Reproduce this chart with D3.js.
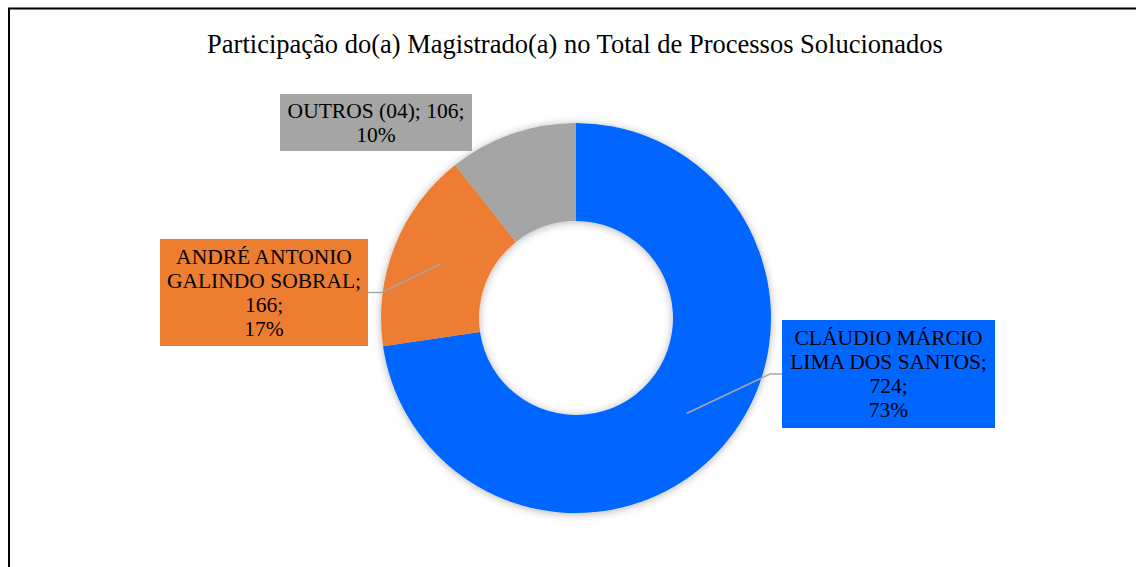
<!DOCTYPE html>
<html>
<head>
<meta charset="utf-8">
<script src="https://cdn.jsdelivr.net/npm/d3@7"></script>
<style>
  html, body { margin: 0; padding: 0; background: #fff; }
  svg { display: block; }
  svg text { font-family: 'Liberation Serif', Tinos, 'Times New Roman', 'DejaVu Serif', serif; }
</style>
</head>
<body>
<svg id="chart" width="1136" height="567"></svg>
<script>
// data
const names = ['CLÁUDIO MÁRCIO LIMA DOS SANTOS', 'ANDRÉ ANTONIO GALINDO SOBRAL', 'OUTROS (04)']
const values = [724, 166, 106]
const percents = ['73%', '17%', '10%']
const colors = ['#0066ff', '#ed7d31', '#a5a5a5']
// how each label breaks into lines
const labelLines = [
  ['CLÁUDIO MÁRCIO', 'LIMA DOS SANTOS;', '724;', '73%'],
  ['ANDRÉ ANTONIO', 'GALINDO SOBRAL;', '166;', '17%'],
  ['OUTROS (04); 106;', '10%'],
]

const W = 1136, H = 567
const CX = 576, CY = 318
const R_OUT = 195, R_IN = 97
const FONT = 21.5
const LINE_H = 24
const SERIF = "'Liberation Serif', Tinos, 'Times New Roman', 'DejaVu Serif', serif"

// label boxes: [x, y, w, h], and whether they get a leader line
const boxes = [
  { x: 782, y: 320, w: 213, h: 108, leader: 'left' },
  { x: 160, y: 239, w: 208, h: 107, leader: 'right' },
  { x: 280, y: 94, w: 192, h: 57, leader: null },
]

const svg = d3.select('#chart')

// frame
svg.append('rect')
  .attr('x', 9).attr('y', 8.5)
  .attr('width', W + 20).attr('height', H + 20)
  .attr('fill', 'none').attr('stroke', '#000').attr('stroke-width', 2)

svg.append('text')
  .attr('x', 575).attr('y', 53)
  .attr('text-anchor', 'middle')
  .attr('font-family', SERIF)
  .style('font-size', '26.5px')
  .text('Participação do(a) Magistrado(a) no Total de Processos Solucionados')

const defs = svg.append('defs')
const shadow = defs.append('filter').attr('id', 'shadow')
  .attr('x', '-20%').attr('y', '-20%').attr('width', '140%').attr('height', '140%')
shadow.append('feDropShadow')
  .attr('dx', 0).attr('dy', 1).attr('stdDeviation', 4)
  .attr('flood-color', '#000').attr('flood-opacity', 0.3)

const pie = d3.pie().sort(null).value(d => d)
const arcs = pie(values)
const arc = d3.arc().innerRadius(R_IN).outerRadius(R_OUT)
const mid = d3.arc().innerRadius((R_IN + R_OUT) / 2).outerRadius((R_IN + R_OUT) / 2)

const g = svg.append('g').attr('transform', `translate(${[CX, CY]})`)
g.append('g').attr('filter', 'url(#shadow)')
  .selectAll('path').data(arcs).join('path')
  .attr('d', arc)
  .attr('fill', (d, i) => colors[i])

// leader lines
arcs.forEach((d, i) => {
  const b = boxes[i]
  if (!b.leader) return
  const [px, py] = mid.centroid(d)
  const ey = b.y + b.h / 2 - CY
  const bx = (b.leader === 'left' ? b.x : b.x + b.w) - CX
  const elbow = b.leader === 'left' ? bx - 12 : bx + 14
  g.append('path')
    .attr('d', d3.line()([[px, py], [elbow, ey], [bx, ey]]))
    .attr('fill', 'none').attr('stroke', '#a6a6a6').attr('stroke-width', 1.5)
})

// label boxes
const labels = svg.append('g')
boxes.forEach((b, i) => {
  const lg = labels.append('g')
  lg.append('rect')
    .attr('x', b.x).attr('y', b.y).attr('width', b.w).attr('height', b.h)
    .attr('fill', colors[i])
  const lines = labelLines[i]
  const cy = b.y + b.h / 2
  lines.forEach((t, k) => {
    lg.append('text')
      .attr('x', b.x + b.w / 2)
      .attr('y', cy + (k - (lines.length - 1) / 2) * LINE_H)
      .attr('dy', '0.34em')
      .attr('text-anchor', 'middle')
      .attr('font-family', SERIF)
      .style('font-size', FONT + 'px')
      .attr('fill', '#000')
      .text(t)
  })
})
</script>
</body>
</html>
